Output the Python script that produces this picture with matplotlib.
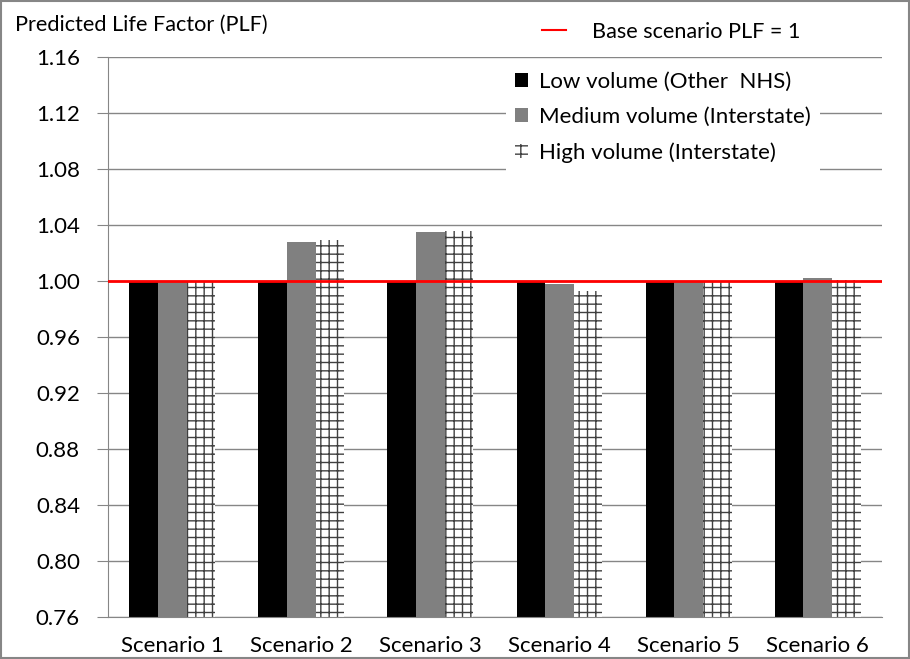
import numpy as np
import matplotlib.pyplot as plt
from matplotlib.lines import Line2D
from matplotlib.patches import Patch

plt.rcParams['font.family'] = ['Lato', 'DejaVu Sans']
plt.rcParams['hatch.linewidth'] = 1.0

scenarios = ['Scenario 1', 'Scenario 2', 'Scenario 3', 'Scenario 4', 'Scenario 5', 'Scenario 6']
low_vol = [1.000, 1.000, 1.000, 1.000, 1.000, 1.000]
med_vol = [1.000, 1.028, 1.035, 0.998, 1.000, 1.002]
high_vol = [0.999, 1.029, 1.0355, 0.993, 0.9995, 1.001]
yticks = [0.76, 0.80, 0.84, 0.88, 0.92, 0.96, 1.00, 1.04, 1.08, 1.12, 1.16]
base_plf = 1.0

fig = plt.figure(figsize=(9.1, 6.59), dpi=100)
ax = fig.add_axes([0.1184, 0.0637, 0.851, 0.8498])

x = np.arange(len(scenarios))
w = 0.222
ax.bar(x - w, low_vol, w, color='black', zorder=2)
ax.bar(x, med_vol, w, color='#808080', zorder=2)
ax.bar(x + w, high_vol, w, color='white', edgecolor='#404040', hatch='++',
       linewidth=0, zorder=2)
ax.axhline(base_plf, color='red', lw=2, zorder=3)

ax.set_ylim(0.76, 1.16)
ax.set_xlim(-0.5, len(scenarios) - 0.5)
ax.set_yticks(yticks)
ax.set_yticklabels(['%.2f' % t for t in yticks], fontsize=16)
ax.set_xticks(x)
ax.set_xticklabels(scenarios, fontsize=16)
ax.tick_params(axis='x', length=0, pad=14)
ax.tick_params(axis='y', length=8, color='#868686', pad=12)
ax.yaxis.grid(True, color='#868686', lw=1, zorder=0)
ax.set_axisbelow(True)
for s in ['top', 'right']:
    ax.spines[s].set_visible(False)
for s in ['left', 'bottom']:
    ax.spines[s].set_color('#868686')

fig.text(0.016, 0.962, 'Predicted Life Factor (PLF)', fontsize=15.6, va='center')

handles = [Patch(facecolor='black', label='Low volume (Other  NHS)'),
           Patch(facecolor='#808080', label='Medium volume (Interstate)'),
           Patch(facecolor='white', edgecolor='#404040', hatch='++', lw=0,
                 label='High volume (Interstate)')]
leg = ax.legend(handles=handles, loc='upper left', bbox_to_anchor=(0.50, 1.01),
                frameon=True, fancybox=False, edgecolor='none', framealpha=1,
                fontsize=16, handlelength=0.6, handleheight=0.6, handletextpad=0.5,
                labelspacing=0.7, borderpad=0.4)

base_leg = fig.legend(handles=[Line2D([], [], color='red', lw=1.5)],
                      labels=['Base scenario PLF = 1'], loc='center left',
                      bbox_to_anchor=(0.574, 0.952), frameon=False, fontsize=15.6,
                      handlelength=1.1, handletextpad=1.2)

# grey frame around the whole picture
fig.patches.append(plt.Rectangle((0.001, 0.001), 0.998, 0.998, transform=fig.transFigure,
                                 fill=False, edgecolor='#868686', lw=1.5))

fig.savefig('out.png', dpi=100)
